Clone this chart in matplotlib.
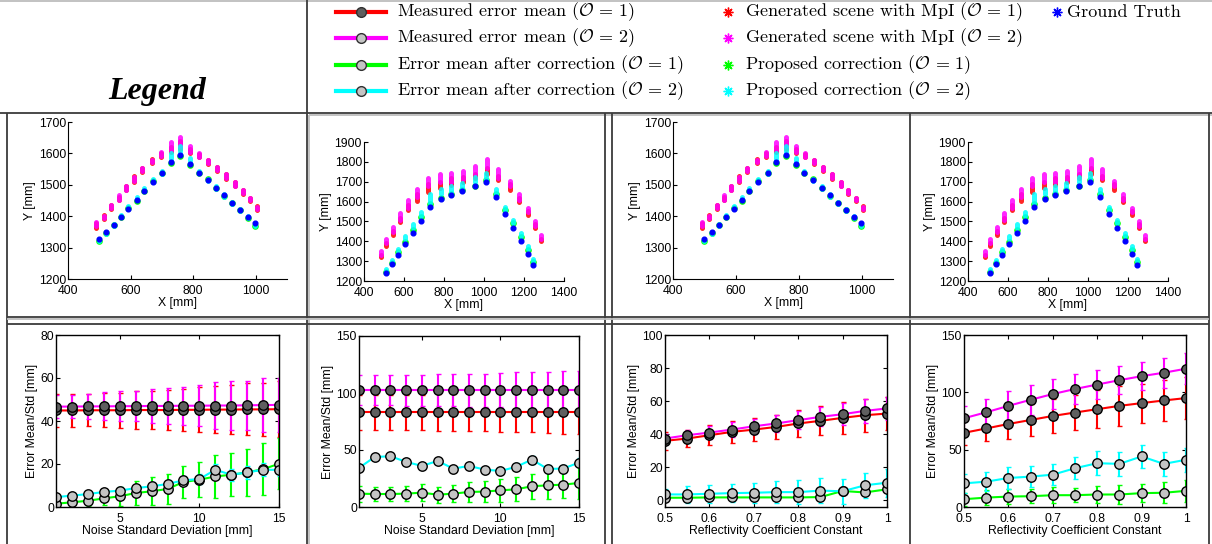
import matplotlib
matplotlib.use('Agg')
import matplotlib.pyplot as plt

plt.rcParams['mathtext.fontset'] = 'cm'
plt.rcParams['font.family'] = ['Liberation Sans', 'DejaVu Sans']

W, H = 1212, 544

# ---- scene A (corner) : x/y in mm
a_gt_x = [499, 523, 547, 569, 593, 619, 643, 671, 701, 729, 758, 790, 818, 846, 873, 899, 925, 950, 976, 998]
a_gt_y = [1327, 1349, 1372, 1399, 1423, 1450, 1479, 1509, 1539, 1572, 1596, 1566, 1539, 1514, 1489, 1466, 1441, 1420, 1396, 1378]
a_meas_x = [491, 514, 539, 562, 585, 611, 637, 667, 697, 728, 759, 790, 820, 849, 877, 905, 934, 958, 982, 1005]
a_red_lo = [1364, 1392, 1422, 1450, 1482, 1510, 1540, 1568, 1590, 1605, 1615, 1600, 1587, 1566, 1545, 1520, 1495, 1472, 1447, 1420]
a_red_hi = [1378, 1405, 1435, 1462, 1496, 1528, 1555, 1582, 1600, 1620, 1640, 1615, 1598, 1578, 1558, 1533, 1510, 1484, 1457, 1432]
a_mag_lo = [1368, 1395, 1425, 1452, 1485, 1512, 1545, 1572, 1592, 1610, 1625, 1605, 1590, 1570, 1548, 1523, 1497, 1475, 1450, 1422]
a_mag_hi = [1380, 1402, 1435, 1467, 1495, 1525, 1555, 1580, 1603, 1635, 1652, 1622, 1600, 1580, 1557, 1535, 1510, 1485, 1458, 1430]
a_green_y = [1320, 1347, 1372, 1397, 1425, 1447, 1480, 1512, 1537, 1570, 1593, 1562, 1536, 1517, 1490, 1463, 1441, 1420, 1393, 1370]
a_cyan_lo = [1322, 1343, 1370, 1398, 1425, 1452, 1482, 1508, 1535, 1578, 1605, 1572, 1538, 1512, 1488, 1462, 1440, 1418, 1395, 1368]
a_cyan_hi = [1328, 1349, 1376, 1404, 1432, 1462, 1490, 1518, 1545, 1600, 1625, 1585, 1545, 1520, 1496, 1470, 1446, 1423, 1402, 1378]

# ---- scene B (curved wall)
b_gt_x = [508, 540, 570, 604, 645, 687, 729, 784, 837, 891, 954, 1009, 1059, 1105, 1146, 1185, 1218, 1246]
b_gt_y = [1240, 1284, 1333, 1385, 1443, 1504, 1573, 1611, 1631, 1652, 1677, 1699, 1623, 1539, 1467, 1400, 1338, 1282]
b_meas_x = [483, 512, 545, 582, 620, 667, 719, 779, 837, 896, 954, 1016, 1071, 1128, 1176, 1218, 1255, 1285]
b_red_lo = [1320, 1378, 1430, 1495, 1560, 1605, 1650, 1670, 1685, 1700, 1720, 1740, 1710, 1660, 1600, 1530, 1465, 1400]
b_red_hi = [1332, 1392, 1450, 1515, 1585, 1640, 1690, 1700, 1720, 1725, 1740, 1770, 1730, 1690, 1620, 1555, 1485, 1410]
b_mag_lo = [1330, 1390, 1445, 1505, 1570, 1625, 1680, 1700, 1700, 1715, 1740, 1770, 1720, 1680, 1610, 1550, 1475, 1410]
b_mag_hi = [1352, 1410, 1470, 1540, 1610, 1665, 1720, 1740, 1742, 1755, 1780, 1815, 1765, 1705, 1640, 1570, 1500, 1430]
b_green_y = [1245, 1290, 1345, 1398, 1455, 1520, 1588, 1617, 1637, 1658, 1680, 1707, 1640, 1560, 1490, 1420, 1355, 1295]
b_cyan_lo = [1250, 1295, 1350, 1410, 1468, 1525, 1595, 1640, 1645, 1665, 1700, 1710, 1640, 1560, 1490, 1425, 1360, 1300]
b_cyan_hi = [1262, 1308, 1362, 1425, 1485, 1545, 1640, 1665, 1680, 1695, 1722, 1745, 1662, 1572, 1505, 1440, 1375, 1312]

# ---- error vs noise std
noise = [1, 2, 3, 4, 5, 6, 7, 8, 9, 10, 11, 12, 13, 14, 15]

na_red_mean = [44.9, 44.9, 45.0, 45.0, 45.0, 45.1, 45.1, 45.1, 45.2, 45.2, 45.3, 45.3, 45.4, 45.4, 45.5]
na_red_std = [7.5, 7.5, 7.5, 7.8, 8.2, 8.7, 9.0, 9.3, 9.8, 10.5, 10.9, 11.5, 12.1, 12.4, 13.0]
na_mag_mean = [46.7, 46.7, 46.8, 46.8, 46.9, 46.9, 47.0, 47.0, 47.1, 47.1, 47.2, 47.2, 47.3, 47.4, 47.5]
na_mag_std = [5.4, 5.4, 5.9, 6.5, 7.0, 7.0, 8.1, 8.5, 8.8, 9.6, 10.9, 11.2, 11.5, 12.5, 12.6]
na_green_mean = [1.5, 2.2, 2.9, 4.0, 5.0, 6.5, 7.3, 8.4, 11.6, 12.7, 14.2, 15.0, 16.1, 17.6, 20.1]
na_green_std = [1.5, 2.0, 2.5, 3.0, 4.5, 5.4, 6.6, 7.1, 7.6, 8.0, 9.9, 10.0, 10.8, 12.1, 11.9]
na_cyan_mean = [4.6, 5.3, 6.0, 7.0, 7.6, 8.8, 9.6, 10.7, 12.4, 13.0, 17.3, 15.0, 16.1, 17.3, 17.3]
na_cyan_std = [1.0, 1.0, 1.2, 1.3, 1.5, 1.6, 1.8, 2.0, 2.2, 2.3, 2.8, 2.8, 3.0, 3.0, 3.0]

nb_red_mean = [82.9, 82.9, 82.9, 82.9, 82.9, 82.9, 82.9, 82.9, 82.9, 82.9, 82.9, 82.9, 82.9, 82.9, 82.9]
nb_red_std = [15.0, 15.0, 15.0, 15.5, 15.5, 16.0, 16.0, 16.5, 16.5, 17.0, 17.5, 17.5, 18.0, 18.5, 19.0]
nb_mag_mean = [102.5, 102.5, 102.5, 102.5, 102.5, 102.5, 102.5, 102.5, 102.5, 102.5, 102.5, 102.5, 102.5, 102.5, 102.5]
nb_mag_std = [13.0, 13.0, 13.0, 13.5, 13.5, 14.0, 14.0, 14.5, 14.5, 15.0, 15.5, 15.5, 16.0, 16.5, 17.0]
nb_green_mean = [11.7, 11.4, 11.4, 11.7, 12.6, 10.8, 11.7, 13.2, 13.5, 14.6, 15.5, 18.2, 19.0, 19.6, 21.1]
nb_green_std = [7.0, 6.5, 6.5, 6.5, 7.3, 7.0, 7.5, 8.5, 9.0, 10.0, 10.5, 11.0, 12.0, 12.0, 14.0]
nb_cyan_mean = [34.3, 43.9, 44.5, 39.6, 36.0, 40.4, 33.7, 36.0, 32.8, 31.6, 35.2, 41.6, 33.4, 33.7, 39.0]
nb_cyan_std = [2.5, 2.5, 2.5, 2.5, 2.5, 2.5, 2.5, 2.5, 2.5, 3.0, 3.0, 3.5, 3.5, 3.5, 4.0]

# ---- error vs reflectivity coefficient
refl = [0.5, 0.55, 0.6, 0.65, 0.7, 0.75, 0.8, 0.85, 0.9, 0.95, 1.0]

ra_red_mean = [36.0, 37.4, 39.4, 41.4, 42.8, 44.4, 46.5, 48.1, 49.9, 51.5, 52.5]
ra_red_std = [5.3, 5.1, 6.1, 6.7, 6.8, 7.0, 8.1, 8.7, 9.5, 10.1, 10.1]
ra_mag_mean = [37.4, 39.4, 41.0, 42.8, 44.8, 46.5, 48.5, 50.5, 52.1, 54.1, 55.6]
ra_mag_std = [3.0, 3.4, 3.8, 4.7, 4.7, 5.4, 5.6, 5.7, 6.5, 7.1, 7.0]
ra_green_mean = [1.6, 1.6, 1.8, 1.8, 1.8, 1.8, 1.8, 2.0, 5.7, 4.8, 6.7]
ra_green_std = [1.0, 1.0, 1.0, 1.0, 1.0, 1.0, 1.0, 1.0, 1.2, 1.2, 1.5]
ra_cyan_mean = [3.6, 3.6, 4.0, 4.4, 4.6, 5.0, 5.0, 5.9, 5.5, 9.1, 10.7]
ra_cyan_std = [3.5, 4.9, 5.5, 5.6, 6.1, 6.7, 7.1, 7.6, 7.6, 7.5, 8.5]

rb_red_mean = [64.7, 68.5, 72.4, 75.9, 79.4, 82.4, 85.3, 88.2, 90.6, 92.9, 95.0]
rb_red_std = [10.5, 10.9, 12.7, 13.8, 14.7, 15.3, 16.8, 17.3, 17.1, 17.9, 18.5]
rb_mag_mean = [77.4, 82.6, 88.2, 93.5, 98.5, 102.9, 106.8, 110.6, 114.1, 117.1, 120.6]
rb_mag_std = [10.8, 11.8, 12.7, 13.3, 12.7, 12.7, 12.6, 12.3, 12.4, 13.2, 13.5]
rb_green_mean = [6.8, 8.2, 9.1, 9.4, 10.3, 10.3, 10.9, 10.9, 12.1, 12.4, 14.1]
rb_green_std = [5.8, 6.8, 6.5, 6.2, 6.8, 6.2, 7.0, 8.2, 7.9, 9.1, 9.4]
rb_cyan_mean = [20.6, 22.1, 25.3, 26.5, 28.2, 33.8, 38.2, 37.6, 44.1, 37.6, 41.2]
rb_cyan_std = [8.2, 8.2, 9.4, 9.1, 9.4, 9.7, 10.3, 10.3, 10.0, 10.3, 10.3]

DARK = '#5f5f5f'
LIGHT = '#c4c4c4'


def px_axes(fig, l, t, r, b):
    return fig.add_axes([l / W, 1 - b / H, (r - l) / W, (b - t) / H])


def streak(ax, x, lo, hi, color):
    lc = ax.vlines(x, lo, hi, colors=color, lw=3.6, alpha=0.85)
    lc.set_capstyle('round')


def draw_scene(ax, gt_x, gt_y, meas_x, red_lo, red_hi, mag_lo, mag_hi,
               green_y, cyan_lo, cyan_hi, xlim, ylim, xticks, yticks):
    streak(ax, meas_x, red_lo, red_hi, (1, 0, 0))
    streak(ax, meas_x, mag_lo, mag_hi, (1, 0, 1))
    ax.plot(gt_x, green_y, 'o', color=(0, 1, 0), ms=3.8, alpha=0.9)
    streak(ax, gt_x, cyan_lo, cyan_hi, (0, 1, 1))
    ax.plot(gt_x, gt_y, 'o', color=(0, 0, 1), ms=3.4)
    ax.set_xlim(xlim)
    ax.set_ylim(ylim)
    ax.set_xticks(xticks)
    ax.set_yticks(yticks)
    ax.spines['top'].set_visible(False)
    ax.spines['right'].set_visible(False)
    ax.tick_params(direction='in', length=3, labelsize=8.8, pad=1.5)
    ax.tick_params(axis='x', pad=4.5)
    ax.set_xlabel('X [mm]', fontsize=8.8, labelpad=0)
    ax.set_ylabel('Y [mm]', fontsize=8.8, labelpad=2)


def draw_errors(ax, x, series, xlim, ylim, xticks, yticks, xlabel):
    for mean, std, color, face in series:
        ax.errorbar(x, mean, yerr=std, color=color, lw=1.5, elinewidth=1.5,
                    capsize=1.8, capthick=1.5, marker='o', ms=6.8,
                    mfc=face, mec='k', mew=1.0)
    ax.set_xlim(xlim)
    ax.set_ylim(ylim)
    ax.set_xticks(xticks)
    ax.set_yticks(yticks)
    ax.tick_params(direction='in', length=3, labelsize=8.8, pad=1.5,
                   top=True, right=True)
    ax.tick_params(axis='x', pad=4)
    for s in ax.spines.values():
        s.set_linewidth(1.0)
    ax.set_xlabel(xlabel, fontsize=8.8, labelpad=0)
    ax.set_ylabel('Error Mean/Std [mm]', fontsize=8.8, labelpad=2)


fig = plt.figure(figsize=(W / 100, H / 100), dpi=100)

# table grid and legend drawn on a full-figure canvas in pixel units
ov = fig.add_axes([0, 0, 1, 1])
ov.set_xlim(0, W)
ov.set_ylim(H, 0)
ov.axis('off')

dark_line = dict(color='#3c3c3c', lw=1.3, solid_capstyle='butt')
light_line = dict(color='#bdbdbd', lw=1.3, solid_capstyle='butt')
ov.plot([0, W], [1, 1], **light_line)
ov.plot([0, W], [113, 113], **dark_line)
ov.plot([309, W], [115, 115], **light_line)
ov.plot([307, 307], [0, H], **dark_line)
ov.plot([309, 309], [115, H], **light_line)
for xv in [7, 605, 612, 910, 1209]:
    ov.plot([xv, xv], [113, H], **dark_line)
ov.plot([7, 1209], [317, 317], **dark_line)
ov.plot([7, 1209], [324, 324], **dark_line)
ov.plot([7, 1209], [319, 319], **light_line)

ov.text(157, 92, 'Legend', fontsize=23, family=['Liberation Serif'],
        style='italic', weight='bold', ha='center', va='center')

rows_y = [12, 38, 65, 91]
mean_labels = [r'Measured error mean ($\mathcal{O}\,=\,1$)',
               r'Measured error mean ($\mathcal{O}\,=\,2$)',
               r'Error mean after correction ($\mathcal{O}\,=\,1$)',
               r'Error mean after correction ($\mathcal{O}\,=\,2$)']
point_labels = [r'Generated scene with MpI ($\mathcal{O}\,=\,1$)',
                r'Generated scene with MpI ($\mathcal{O}\,=\,2$)',
                r'Proposed correction ($\mathcal{O}\,=\,1$)',
                r'Proposed correction ($\mathcal{O}\,=\,2$)']
series_colors = [(1, 0, 0), (1, 0, 1), (0, 1, 0), (0, 1, 1)]
marker_faces = [DARK, LIGHT, LIGHT, LIGHT]
serif = ['cmr10', 'DejaVu Serif']

for yy, lab, plab, col, face in zip(rows_y, mean_labels, point_labels,
                                     series_colors, marker_faces):
    ov.plot([336, 386], [yy, yy], color=col, lw=3)
    ov.plot([361], [yy], 'o', ms=7, mfc=face, mec='#303030', mew=1)
    ov.text(397, yy, lab, fontsize=13, family=serif, ha='left', va='center')
    ov.plot([728], [yy], marker=(8, 2, 0), ms=7, color=col, mew=1)
    ov.text(745, yy, plab, fontsize=13, family=serif, ha='left', va='center')
ov.plot([1057], [rows_y[0]], marker=(8, 2, 0), ms=7, color=(0, 0, 1), mew=1)
ov.text(1067, rows_y[0], 'Ground Truth', fontsize=13, family=serif,
        ha='left', va='center')

# top row: reconstructed scenes
ax1 = px_axes(fig, 68, 122, 287, 279)
draw_scene(ax1, a_gt_x, a_gt_y, a_meas_x, a_red_lo, a_red_hi, a_mag_lo, a_mag_hi,
           a_green_y, a_cyan_lo, a_cyan_hi, (400, 1100), (1200, 1700),
           [400, 600, 800, 1000], [1200, 1300, 1400, 1500, 1600, 1700])
ax2 = px_axes(fig, 364, 142, 564, 281)
draw_scene(ax2, b_gt_x, b_gt_y, b_meas_x, b_red_lo, b_red_hi, b_mag_lo, b_mag_hi,
           b_green_y, b_cyan_lo, b_cyan_hi, (400, 1400), (1200, 1900),
           [400, 600, 800, 1000, 1200, 1400],
           [1200, 1300, 1400, 1500, 1600, 1700, 1800, 1900])
ax3 = px_axes(fig, 673, 122, 893, 279)
draw_scene(ax3, a_gt_x, a_gt_y, a_meas_x, a_red_lo, a_red_hi, a_mag_lo, a_mag_hi,
           a_green_y, a_cyan_lo, a_cyan_hi, (400, 1100), (1200, 1700),
           [400, 600, 800, 1000], [1200, 1300, 1400, 1500, 1600, 1700])
ax4 = px_axes(fig, 968, 142, 1168, 281)
draw_scene(ax4, b_gt_x, b_gt_y, b_meas_x, b_red_lo, b_red_hi, b_mag_lo, b_mag_hi,
           b_green_y, b_cyan_lo, b_cyan_hi, (400, 1400), (1200, 1900),
           [400, 600, 800, 1000, 1200, 1400],
           [1200, 1300, 1400, 1500, 1600, 1700, 1800, 1900])

# bottom row: error statistics
ax5 = px_axes(fig, 56, 335, 279, 507)
draw_errors(ax5, noise,
            [(na_red_mean, na_red_std, (1, 0, 0), DARK),
             (na_mag_mean, na_mag_std, (1, 0, 1), DARK),
             (na_green_mean, na_green_std, (0, 1, 0), LIGHT),
             (na_cyan_mean, na_cyan_std, (0, 1, 1), LIGHT)],
            (1, 15), (0, 80), [5, 10, 15], [0, 20, 40, 60, 80],
            'Noise Standard Deviation [mm]')
ax6 = px_axes(fig, 359, 336, 579, 507)
draw_errors(ax6, noise,
            [(nb_red_mean, nb_red_std, (1, 0, 0), DARK),
             (nb_mag_mean, nb_mag_std, (1, 0, 1), DARK),
             (nb_green_mean, nb_green_std, (0, 1, 0), LIGHT),
             (nb_cyan_mean, nb_cyan_std, (0, 1, 1), LIGHT)],
            (1, 15), (0, 150), [5, 10, 15], [0, 50, 100, 150],
            'Noise Standard Deviation [mm]')
ax7 = px_axes(fig, 665, 335, 887, 507)
draw_errors(ax7, refl,
            [(ra_red_mean, ra_red_std, (1, 0, 0), DARK),
             (ra_mag_mean, ra_mag_std, (1, 0, 1), DARK),
             (ra_green_mean, ra_green_std, (0, 1, 0), LIGHT),
             (ra_cyan_mean, ra_cyan_std, (0, 1, 1), LIGHT)],
            (0.5, 1.0), (-4, 100), [0.5, 0.6, 0.7, 0.8, 0.9, 1.0],
            [0, 20, 40, 60, 80, 100], 'Reflectivity Coefficient Constant')
ax7.set_xticklabels(['0.5', '0.6', '0.7', '0.8', '0.9', '1'])
ax8 = px_axes(fig, 964, 335, 1186, 507)
draw_errors(ax8, refl,
            [(rb_red_mean, rb_red_std, (1, 0, 0), DARK),
             (rb_mag_mean, rb_mag_std, (1, 0, 1), DARK),
             (rb_green_mean, rb_green_std, (0, 1, 0), LIGHT),
             (rb_cyan_mean, rb_cyan_std, (0, 1, 1), LIGHT)],
            (0.5, 1.0), (0, 150), [0.5, 0.6, 0.7, 0.8, 0.9, 1.0],
            [0, 50, 100, 150], 'Reflectivity Coefficient Constant')
ax8.set_xticklabels(['0.5', '0.6', '0.7', '0.8', '0.9', '1'])

fig.savefig('out.png', dpi=100)
